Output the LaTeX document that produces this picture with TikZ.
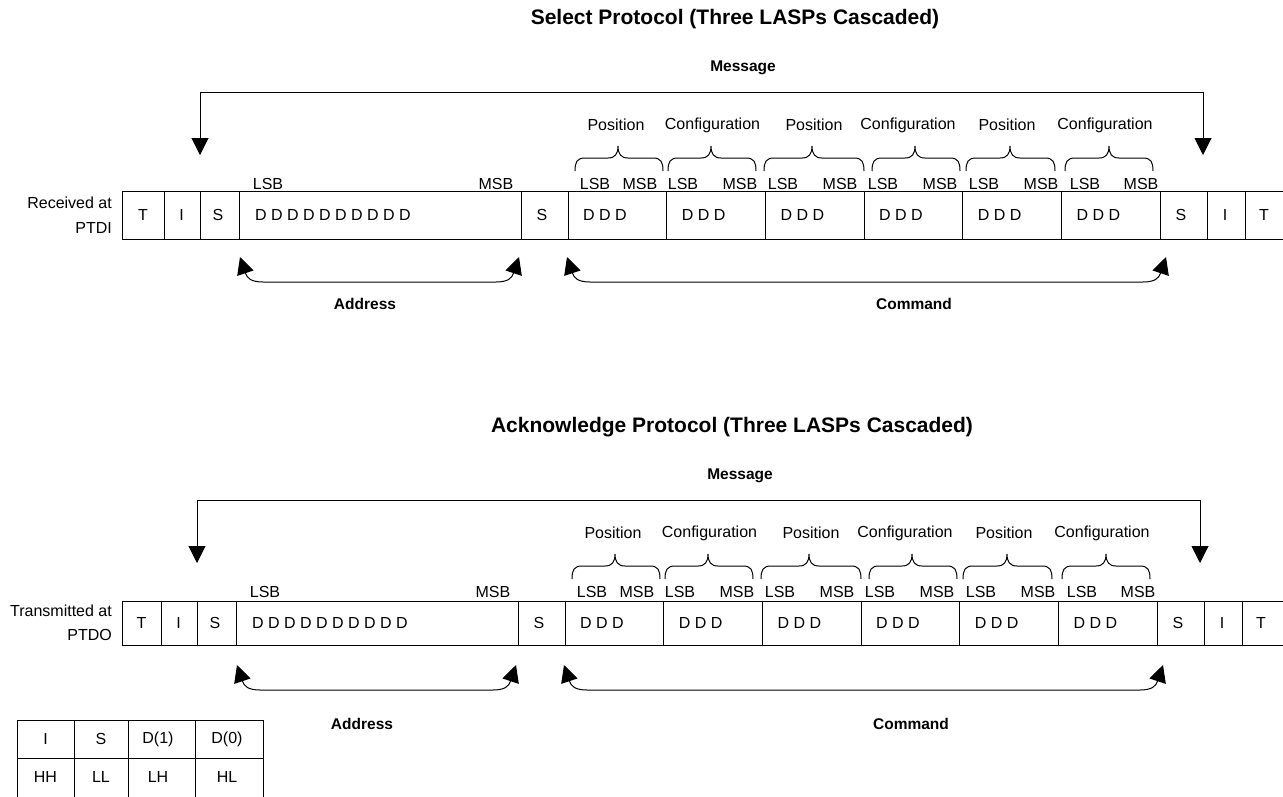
\documentclass[tikz,border=0pt]{standalone}
\usepackage{fontspec}
\setmainfont{Liberation Sans}
\usetikzlibrary{arrows.meta,calc}
\tikzset{
  lnw/.style={line width=1pt},
  lbl/.style={inner sep=0pt, font=\fontsize{16}{19}\selectfont},
  blbl/.style={inner sep=0pt, font=\fontsize{15.5}{19}\selectfont\bfseries},
  ttl/.style={inner sep=0pt, font=\fontsize{21}{25}\selectfont\bfseries},
  dblarrow/.style={line width=1pt, {Triangle[length=17pt,width=17pt]}-{Triangle[length=17pt,width=17pt]}},
  bracepath/.style={line width=1pt},
}
\newcommand\cbrace[3]{%
  \draw[bracepath] ({#1},171) .. controls ({#1},162) and ({#1+2},158) .. ({#1+10},158)
    -- ({#2-10},158) .. controls ({#2-3},158) and ({#2},154) .. ({#2},146)
    .. controls ({#2},154) and ({#2+3},158) .. ({#2+10},158)
    -- ({#3-10},158) .. controls ({#3-2},158) and ({#3},162) .. ({#3},171);}
\newcommand\drawproto[9]{%
\begin{scope}[shift={(#2,#3)}]
  \node[ttl] (#1title) at (735,19) {#9};
  \node[blbl] (#1msg) at (743,68) {Message};
  % frame
  \draw[lnw] (#8,#4) rectangle (1300,#5);
  \foreach \x in {164,200,239,521,568,666.67,765.33,864,962.67,1061.33,1160,1207,1245}
    \draw[lnw] (\x,#4) -- (\x,#5);
  % row label
  \node[lbl, align=right, anchor=east, font=\fontsize{16}{24.5}\selectfont] (#1row) at ({#8-10},215) {#6};
  % cell texts
  \node[lbl] (#1T1) at ({(#8+164)/2},215) {T};
  \node[lbl] (#1I1) at (181.5,215) {I};
  \node[lbl] (#1S1) at (218,215) {S};
  \node[lbl, anchor=west] (#1Dlong) at (255,215) {D D D D D D D D D D};
  \node[lbl] (#1S2) at (542,215) {S};
  \foreach \i/\x in {1/583,2/681.67,3/780.33,4/879,5/977.67,6/1076.33}
    \node[lbl, anchor=west] (#1ddd\i) at (\x,215) {D D D};
  \node[lbl] (#1S3) at (1181,215) {S};
  \node[lbl] (#1I2) at (1225,215) {I};
  \node[lbl] (#1T2) at (1264,215) {T};
  % LSB / MSB
  \node[lbl] (#1lsbA) at (268,184) {LSB};
  \node[lbl] (#1msbA) at (496,184) {MSB};
  \foreach \i/\l/\m in {1/595/640,2/683/740,3/783/840,4/883/940,5/984/1041,6/1085/1141}{
    \node[lbl] (#1lsb\i) at (\l,184) {LSB};
    \node[lbl] (#1msb\i) at (\m,184) {MSB};
  }
  % group labels
  \foreach \i/\x/\t in {1/616/Position,2/712.5/Configuration,3/814/Position,4/908/Configuration,5/1007/Position,6/1105/Configuration}
    \node[lbl] (#1grp\i) at (\x,125) {\t};
  % braces
  \cbrace{575}{618}{663}
  \cbrace{668}{711}{756}
  \cbrace{764}{812}{864}
  \cbrace{872}{915}{960}
  \cbrace{966}{1010}{1055}
  \cbrace{1065}{1109}{1153}
  % message arrow
  \coordinate (#1mL) at (200,155);
  \coordinate (#1mT) at (1203,92);
  \coordinate (#1mR) at (1203,155);
  \draw[dblarrow] (#1mL) |- (#1mT) -- (#1mR);
  % address / command arrows
  \coordinate (#1aL) at (240,257);
  \coordinate (#1aR) at (519,257);
  \coordinate (#1cL) at (567,257);
  \coordinate (#1cR) at (1166,257);
  \draw[dblarrow] (#1aL) .. controls +(7,21) and +(-12,0) .. ($(#1aL)+(23,25)$)
     -- ($(#1aR)+(-23,25)$) .. controls +(12,0) and +(-7,21) .. (#1aR);
  \draw[dblarrow] (#1cL) .. controls +(7,21) and +(-12,0) .. ($(#1cL)+(23,25)$)
     -- ($(#1cR)+(-23,25)$) .. controls +(12,0) and +(-7,21) .. (#1cR);
  \node[blbl] (#1addr) at (365,#7) {Address};
  \node[blbl] (#1cmd) at (914,#7) {Command};
\end{scope}}
\begin{document}
\begin{tikzpicture}[x=1pt,y=-1pt]
  \useasboundingbox (0,0) rectangle (1283,796);
  \drawproto{a}{0}{0}{191}{239}{Received at\\PTDI}{304}{122}{Select Protocol (Three LASPs Cascaded)}
  \drawproto{b}{-3}{408}{193}{237}{Transmitted at\\PTDO}{316}{125}{Acknowledge Protocol (Three LASPs Cascaded)}
  % legend table
  \draw[lnw] (17,720) rectangle (263,800);
  \draw[lnw] (17,758) -- (263,758);
  \foreach \x in {74,128,195} \draw[lnw] (\x,720) -- (\x,800);
  \node[lbl] (tI) at (45.5,739) {I};
  \node[lbl] (tS) at (101,739) {S};
  \node[lbl] (tD1) at (158,739) {D(1)};
  \node[lbl] (tD0) at (227,739) {D(0)};
  \node[lbl] (tHH) at (45.5,777) {HH};
  \node[lbl] (tLL) at (101,777) {LL};
  \node[lbl] (tLH) at (158,777) {LH};
  \node[lbl] (tHL) at (227,777) {HL};
\end{tikzpicture}
\end{document}
